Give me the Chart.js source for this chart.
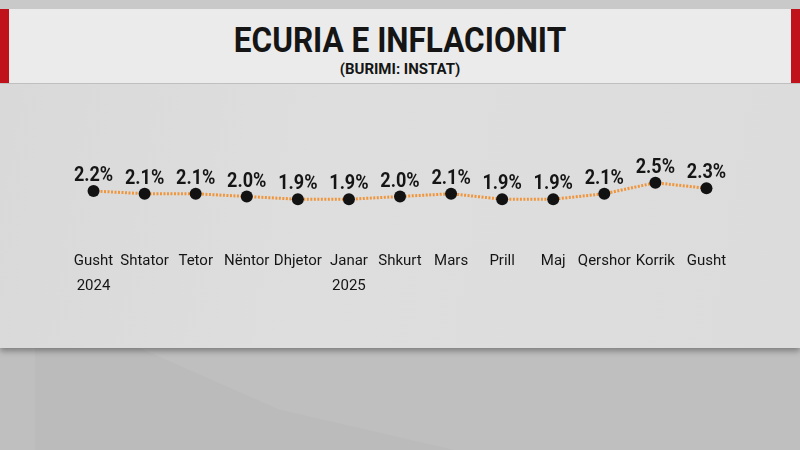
<!DOCTYPE html>
<html>
<head>
<meta charset="utf-8">
<script src="https://cdn.jsdelivr.net/npm/chart.js@4"></script>
<style>
  html, body { margin: 0; padding: 0; }
  body {
    width: 800px; height: 450px; overflow: hidden; position: relative;
    background: linear-gradient(180deg, #c9c9c9 0%, #c4c4c4 100%);
    font-family: Roboto, "Noto Sans", sans-serif;
  }
  .panel {
    position: absolute; left: 0; top: 84px; width: 800px; height: 264px;
    background: linear-gradient(100deg, #d9d9d9 0%, #dedede 40%, #dcdcdc 100%);
    box-shadow: 0 3px 6px rgba(0,0,0,0.35);
  }
  .lower {
    position: absolute; left: 0; top: 348px; width: 800px; height: 102px;
    background: #bfbfbf;
  }
  .shape {
    position: absolute; left: 35px; top: 348px; width: 420px; height: 102px;
    background: rgba(0,0,0,0.018);
    clip-path: polygon(0 0, 25% 0, 58% 60%, 100% 100%, 0 100%);
  }
  .banner {
    position: absolute; left: 0; top: 9px; width: 800px; height: 74px;
    background: #ebebeb;
  }
  .red { position: absolute; top: 0; width: 9px; height: 74px; background: #c0121a; }
  .red.l { left: 0; }
  .red.r { right: 0; }
  .title {
    position: absolute; left: 0; width: 800px; top: 21px; text-align: center;
    font-weight: 700; font-size: 35px; color: #151515; line-height: 40px;
    transform: scaleX(0.9); transform-origin: 400px 0;
  }
  .sub {
    position: absolute; left: 0; width: 800px; top: 60px; text-align: center;
    font-weight: 700; font-size: 15px; color: #151515; line-height: 18px;
  }
  canvas { position: absolute; left: 0; top: 0; }
</style>
</head>
<body>
<div class="lower"></div>
<div class="shape"></div>
<div class="panel"></div>
<div class="banner">
  <div class="red l"></div>
  <div class="red r"></div>
</div>
<div class="title">ECURIA E INFLACIONIT</div>
<div class="sub">(BURIMI: INSTAT)</div>
<canvas id="chart-inflation" width="800" height="450"></canvas>
<script>
const months = [
    ['Gusht', '2024'], 'Shtator', 'Tetor', 'Nëntor', 'Dhjetor',
    ['Janar', '2025'], 'Shkurt', 'Mars', 'Prill', 'Maj', 'Qershor', 'Korrik', 'Gusht'
];
const inflation = [2.2, 2.1, 2.1, 2.0, 1.9, 1.9, 2.0, 2.1, 1.9, 1.9, 2.1, 2.5, 2.3];

const valueLabels = {
    id: 'valueLabels',
    afterDatasetsDraw(chart) {
        const ctx = chart.ctx;
        const meta = chart.getDatasetMeta(0);
        ctx.save();
        ctx.font = 'bold 21px Roboto';
        ctx.fillStyle = '#151515';
        ctx.textAlign = 'center';
        ctx.textBaseline = 'alphabetic';
        meta.data.forEach((pt, i) => {
            ctx.save();
            ctx.translate(pt.x, pt.y - 10);
            ctx.scale(0.86, 1);
            ctx.fillText(inflation[i].toFixed(1) + '%', 0, 0);
            ctx.restore();
        });
        ctx.restore();
    }
};

function createChart(context) {
    return new Chart(context, {
        type: 'line',
        data: {
            labels: months,
            datasets: [{
                data: inflation,
                borderColor: '#f0953a',
                borderWidth: 3,
                borderDash: [2, 1.5],
                tension: 0,
                pointRadius: 6,
                pointBackgroundColor: '#121212',
                pointBorderWidth: 0,
                clip: false
            }]
        },
        options: {
            responsive: false,
            animation: false,
            layout: { padding: { top: 169, left: 68, right: 68, bottom: 100 } },
            plugins: { legend: { display: false }, tooltip: { enabled: false } },
            scales: {
                x: {
                    offset: true,
                    grid: { display: false, drawTicks: false },
                    border: { display: false },
                    afterFit(scale) { scale.height = 126; },
                    ticks: {
                        autoSkip: false, maxRotation: 0, padding: 25,
                        color: '#151515',
                        font: { family: 'Roboto', size: 15, lineHeight: 1.65 }
                    }
                },
                y: {
                    display: false,
                    min: 1.0,
                    max: 3.0
                }
            }
        },
        plugins: [valueLabels]
    });
}

const chart = createChart(document.getElementById('chart-inflation'));
</script>
</body>
</html>
